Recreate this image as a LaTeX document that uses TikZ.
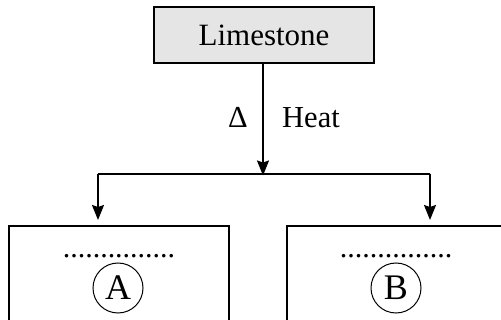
\documentclass[tikz,border=0pt]{standalone}
\usepackage{fontspec}
\setmainfont{Liberation Serif}
\usetikzlibrary{arrows.meta}
\begin{document}
\begin{tikzpicture}[x=1pt,y=-1pt,
  every node/.style={font=\fontsize{30}{36}\selectfont},
  srcbox/.style={draw, line width=1.8pt, fill=black!10, minimum width=220pt, minimum height=56pt, inner sep=0pt, font=\fontsize{31}{37}\selectfont},
  prodbox/.style={draw, line width=2pt, minimum width=220pt, minimum height=150pt, inner sep=0pt},
  tag/.style={circle, draw, line width=1pt, minimum size=50pt, inner sep=0pt, font=\fontsize{36}{40}\selectfont},
  lbl/.style={inner sep=0pt, font=\fontsize{30.5}{36}\selectfont},
  flow/.style={line width=1.6pt, line join=miter, -{Stealth[length=15pt,width=12pt,inset=2pt]}}]
\clip (0,0) rectangle (501,320);
\fill[white] (0,0) rectangle (501,320);

% starting material
\node[srcbox] (lime) at (264,35) {Limestone};

% heating step
\coordinate (split) at (263,174);
\draw[flow] (lime.south -| split) -- ([yshift=-1.5pt]split);
\node[lbl, anchor=base] (delta) at (238,128) {Δ};
\node[lbl, anchor=base west] (heat) at (282,128) {Heat};

% the two products
\node[prodbox, anchor=north west] (prodA) at (8,225) {};
\node[prodbox, anchor=north west] (prodB) at (286,225) {};
\coordinate (inA) at (98,220);
\coordinate (inB) at (430,220);
\draw[line width=1.6pt] (split) -- (split -| inA);
\draw[line width=1.6pt] (split) -- (split -| inB);
\draw[flow] (split -| inA) -- (inA);
\draw[flow] (split -| inB) -- (inB);

\node[anchor=base] (dotsA) at (119,258) {...............};
\node[anchor=base] (dotsB) at (396,258) {...............};
\node[tag] (tagA) at (118,288) {A};
\node[tag] (tagB) at (396,288) {B};
\end{tikzpicture}
\end{document}
